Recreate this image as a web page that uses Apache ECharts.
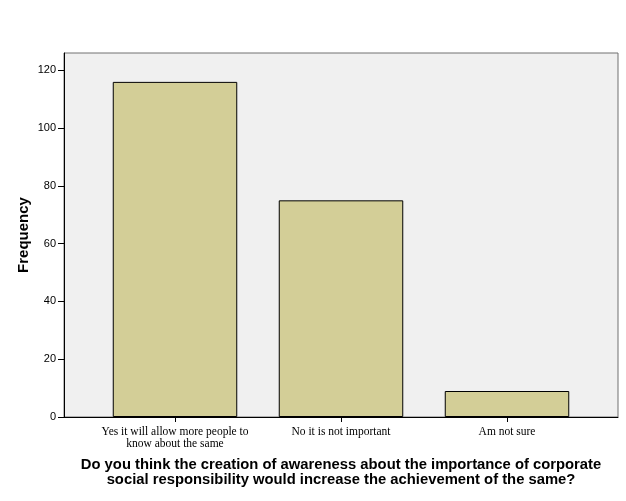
<!DOCTYPE html>
<html>
<head>
<meta charset="utf-8">
<script src="https://cdn.jsdelivr.net/npm/echarts@6/dist/echarts.min.js"></script>
<style>
  html, body { margin: 0; padding: 0; background: #fff; }
  #chart { width: 626px; height: 501px; }
</style>
</head>
<body>
<div id="chart"></div>
<script>
// answers and their counts
const categories = [
    'Yes it will allow more people to\nknow about the same',
    'No it is not important',
    'Am not sure'
];
const frequencies = [116, 75, 9];
const yTicks = { min: 0, max: 126, interval: 20 };

const xTitle = 'Do you think the creation of awareness about the importance of corporate\nsocial responsibility would increase the achievement of the same?';

const chart = echarts.init(document.getElementById('chart'));

const option = {
    animation: false,
    grid: [
        // outer frame with grey background
        {
            left: 64, right: 8, top: 53, bottom: 84,
            outerBoundsMode: 'none',
            containLabel: false,
            show: true,
            backgroundColor: '#f0f0f0',
            borderColor: '#707070',
            borderWidth: 1
        },
        // inner grid where the bars sit (padded on both sides)
        { left: 92, right: 36, top: 53, bottom: 84, outerBoundsMode: 'none', containLabel: false }
    ],
    xAxis: [
        {
            gridIndex: 0,
            type: 'value',
            min: 0, max: 1,
            axisLine: { show: true, onZero: false, lineStyle: { color: '#000', width: 1 } },
            axisTick: { show: false },
            axisLabel: { show: false },
            splitLine: { show: false },
            name: xTitle,
            nameLocation: 'middle',
            nameGap: 40,
            nameMoveOverlap: false,
            nameTextStyle: {
                fontFamily: 'Liberation Sans, Arial, sans-serif',
                fontWeight: 'bold',
                fontSize: 14.8,
                color: '#000',
                lineHeight: 15
            }
        },
        {
            gridIndex: 1,
            type: 'category',
            data: categories,
            axisLine: { show: false },
            axisTick: { show: true, alignWithLabel: true, length: 5, lineStyle: { color: '#000' } },
            axisLabel: {
                fontFamily: 'Liberation Serif, Times New Roman, serif',
                fontSize: 11.5,
                color: '#000',
                margin: 9,
                lineHeight: 12,
                interval: 0
            }
        }
    ],
    yAxis: [
        {
            gridIndex: 0,
            type: 'value',
            min: yTicks.min, max: yTicks.max, interval: yTicks.interval,
            axisLine: { show: true, lineStyle: { color: '#000', width: 1 } },
            axisTick: { show: true, length: 6, lineStyle: { color: '#000' } },
            axisLabel: {
                fontFamily: 'Liberation Sans, Arial, sans-serif',
                fontSize: 11,
                color: '#000',
                margin: 8,
                showMaxLabel: false
            },
            splitLine: { show: false },
            name: 'Frequency',
            nameLocation: 'middle',
            nameGap: 33,
            nameMoveOverlap: false,
            nameTextStyle: {
                fontFamily: 'Liberation Sans, Arial, sans-serif',
                fontWeight: 'bold',
                fontSize: 15,
                color: '#000'
            }
        },
        {
            gridIndex: 1,
            type: 'value',
            min: yTicks.min, max: yTicks.max,
            show: false
        }
    ],
    series: [
        {
            type: 'bar',
            xAxisIndex: 1,
            yAxisIndex: 1,
            data: frequencies,
            barWidth: '75%',
            itemStyle: {
                color: '#d3ce97',
                borderColor: '#000',
                borderWidth: 1
            }
        }
    ]
};

chart.setOption(option);
</script>
</body>
</html>
